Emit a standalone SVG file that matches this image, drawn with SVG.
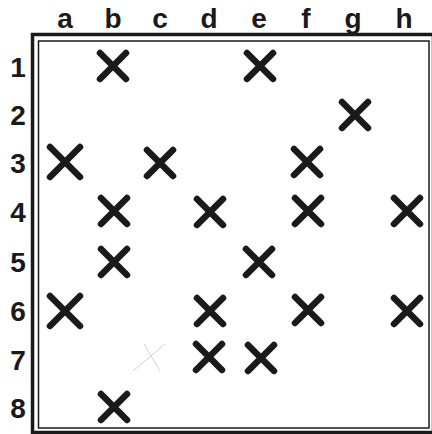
<svg xmlns="http://www.w3.org/2000/svg" width="432" height="434" viewBox="0 0 432 434">
<style>
.lbl{font-family:"Liberation Sans",Arial,sans-serif;font-weight:bold;font-size:28px;fill:#1a1a1a;text-anchor:middle}
.x{stroke:#1a1a1a;stroke-width:6.5;stroke-linecap:round;fill:none}
.xl{stroke:#d0d0d0;stroke-width:1;fill:none}
</style>
<defs>
<path id="X" d="M-13,-13L13,13M13,-13L-13,13"/>
<path id="XL" d="M-15,-15L15,15M15,-15L-15,15"/>
</defs>
<rect width="432" height="434" fill="#fff"/>
<g id="frame" fill="none" stroke="#1a1a1a">
<rect x="32.5" y="34.5" width="401" height="398" stroke-width="3.5"/>
<rect x="38.5" y="41" width="390.5" height="387" stroke-width="1.5"/>
</g>
<g id="files">
<text class="lbl" x="65" y="28">a</text>
<text class="lbl" x="113" y="28">b</text>
<text class="lbl" x="160" y="28">c</text>
<text class="lbl" x="209" y="28">d</text>
<text class="lbl" x="259" y="28">e</text>
<text class="lbl" x="306" y="28">f</text>
<text class="lbl" x="353" y="28">g</text>
<text class="lbl" x="404" y="28">h</text>
</g>
<g id="ranks">
<text class="lbl" x="18" y="77">1</text>
<text class="lbl" x="18" y="125">2</text>
<text class="lbl" x="18" y="173">3</text>
<text class="lbl" x="18" y="222">4</text>
<text class="lbl" x="18" y="272">5</text>
<text class="lbl" x="18" y="321">6</text>
<text class="lbl" x="18" y="370">7</text>
<text class="lbl" x="18" y="418">8</text>
</g>
<g id="marks" class="x">
<use href="#X" x="113" y="66"/>
<use href="#X" x="260" y="66"/>
<use href="#X" x="355" y="115"/>
<use href="#XL" x="65" y="162"/>
<use href="#X" x="160" y="163"/>
<use href="#X" x="307" y="162"/>
<use href="#X" x="114" y="211"/>
<use href="#X" x="210" y="212"/>
<use href="#X" x="308" y="211"/>
<use href="#X" x="407" y="211"/>
<use href="#X" x="114" y="262"/>
<use href="#X" x="259" y="262"/>
<use href="#XL" x="65" y="311"/>
<use href="#X" x="210" y="311"/>
<use href="#X" x="308" y="310"/>
<use href="#X" x="407" y="311"/>
<use href="#X" x="209" y="357"/>
<use href="#X" x="261" y="358"/>
<use href="#X" x="114" y="407"/>
</g>
<g id="faint" class="xl">
<path d="M133,371L165,344M144,344L160,371"/>
</g>
</svg>
